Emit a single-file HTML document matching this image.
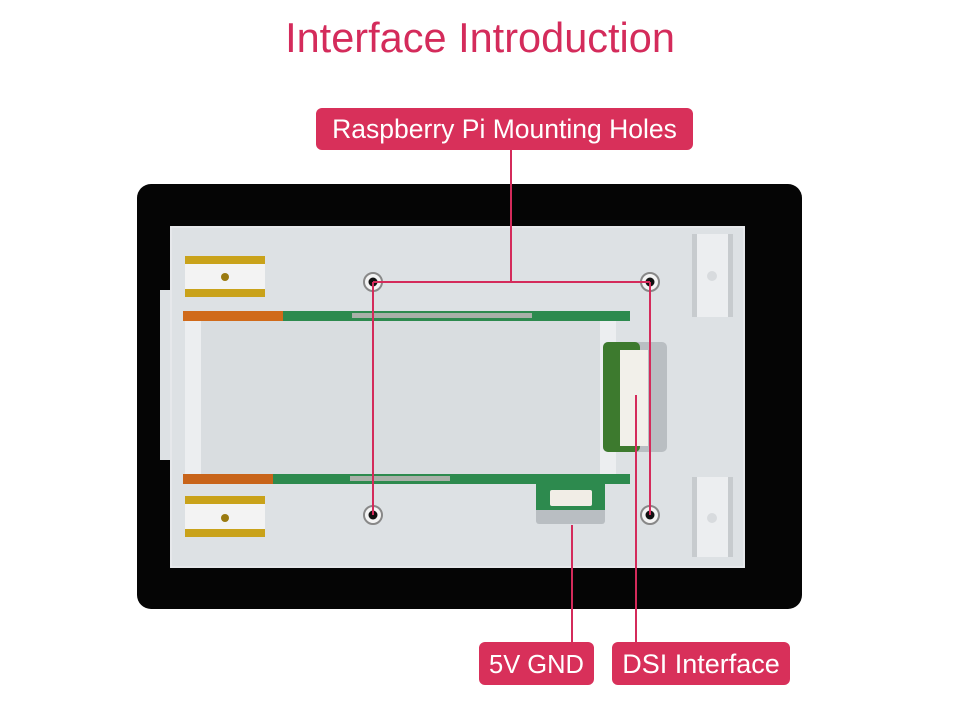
<!DOCTYPE html>
<html><head><meta charset="utf-8"><style>
html,body{margin:0;padding:0;background:#fff;}
svg{display:block;font-family:"Liberation Sans",sans-serif;}
</style></head><body>
<svg width="960" height="709" viewBox="0 0 960 709" xmlns="http://www.w3.org/2000/svg">
<rect width="960" height="709" fill="#fff"/>
<text x="480" y="52" text-anchor="middle" font-size="41.5" fill="#d42b5b">Interface Introduction</text>
<!-- panel -->
<rect x="137" y="184" width="665" height="425" rx="14" fill="#050505"/>
<path d="M170 226 H745 V568 H170 V460 H160 V290 H170 Z" fill="#dde1e4"/>
<rect x="171" y="227" width="573" height="340" fill="none" stroke="#eef0f2" stroke-width="1"/>
<!-- inner area -->
<rect x="185" y="321" width="415" height="153" fill="#d9dde0"/>
<rect x="185" y="321" width="16" height="153" fill="#eceef0"/>
<rect x="600" y="321" width="16" height="153" fill="#eceef0"/>
<!-- green strips -->
<rect x="183" y="311" width="447" height="10" fill="#2d8a4e"/>
<rect x="183" y="311" width="100" height="10" fill="#d06a1a"/>
<rect x="352" y="313" width="180" height="5" fill="#a9b0a8"/>
<rect x="183" y="474" width="447" height="10" fill="#2d8a4e"/>
<rect x="183" y="474" width="90" height="10" fill="#c8641a"/>
<rect x="350" y="476" width="100" height="5" fill="#a9b0a8"/>
<!-- 5V connector -->
<rect x="536" y="484" width="69" height="40" rx="3" fill="#b9bec2"/>
<rect x="536" y="484" width="69" height="26" fill="#2d8a4e"/>
<rect x="550" y="490" width="42" height="16" rx="2" fill="#f1ede6"/>
<!-- DSI connector -->
<rect x="603" y="342" width="64" height="110" rx="5" fill="#b9bec2"/>
<rect x="603" y="342" width="37" height="110" rx="5" fill="#3d7a2e"/>
<rect x="620" y="350" width="28" height="96" fill="#f2f0ea"/>
<!-- left clips -->
<rect x="185" y="256" width="80" height="41" fill="#c9a21a"/>
<rect x="185" y="264" width="80" height="25" fill="#f3f3f3"/>
<circle cx="225" cy="277" r="4" fill="#9a7a10"/>
<rect x="185" y="496" width="80" height="41" fill="#c9a21a"/>
<rect x="185" y="504" width="80" height="25" fill="#f3f3f3"/>
<circle cx="225" cy="518" r="4" fill="#9a7a10"/>
<!-- right clips -->
<rect x="692" y="234" width="41" height="83" fill="#c7cbce"/>
<rect x="697" y="234" width="31" height="83" fill="#eceef0"/>
<circle cx="712" cy="276" r="5" fill="#d8dbde"/>
<rect x="692" y="477" width="41" height="80" fill="#c7cbce"/>
<rect x="697" y="477" width="31" height="80" fill="#eceef0"/>
<circle cx="712" cy="518" r="5" fill="#d8dbde"/>
<!-- holes -->
<g fill="#f4f4f4" stroke="#888" stroke-width="2">
<circle cx="373" cy="282" r="9"/><circle cx="650" cy="282" r="9"/>
<circle cx="373" cy="515" r="9"/><circle cx="650" cy="515" r="9"/>
</g>
<g fill="#111">
<circle cx="373" cy="282" r="4.5"/><circle cx="650" cy="282" r="4.5"/>
<circle cx="373" cy="515" r="4.5"/><circle cx="650" cy="515" r="4.5"/>
</g>
<!-- connectors -->
<g stroke="#d42b5b" stroke-width="2" fill="none">
<path d="M511 150 V282 M373 282 H650 M373 282 V515 M650 282 V515"/>
<path d="M572 525 V643 M636 395 V643"/>
</g>
<!-- labels -->
<rect x="316" y="108" width="377" height="42" rx="6" fill="#d8305a"/>
<text x="504.5" y="138" text-anchor="middle" font-size="26.5" fill="#fff">Raspberry Pi Mounting Holes</text>
<rect x="479" y="642" width="115" height="43" rx="6" fill="#d8305a"/>
<text x="536.5" y="673" text-anchor="middle" font-size="25.5" fill="#fff">5V GND</text>
<rect x="612" y="642" width="178" height="43" rx="6" fill="#d8305a"/>
<text x="701" y="673" text-anchor="middle" font-size="27" fill="#fff">DSI Interface</text>
</svg>
</body></html>
